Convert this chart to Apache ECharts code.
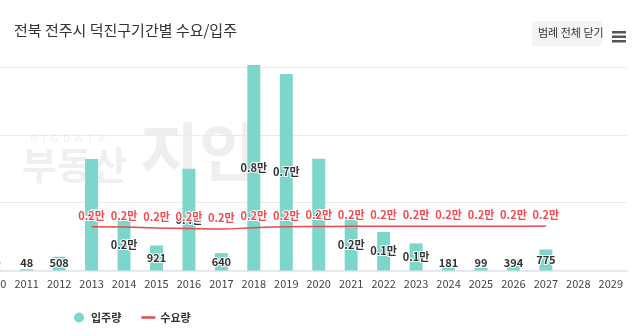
<!DOCTYPE html>
<html>
<head>
<meta charset="utf-8">
<script src="https://cdn.jsdelivr.net/npm/echarts@6/dist/echarts.min.js"></script>
<style>
html,body{margin:0;padding:0;background:#fff;overflow:hidden;width:640px;height:336px;}
#c{position:absolute;left:-22px;top:0;width:662px;height:336px;}
</style>
</head>
<body>
<div id="c"></div>
<script>
var years = ['2010','2011','2012','2013','2014','2015','2016','2017','2018','2019','2020','2021','2022','2023','2024','2025','2026','2027','2028','2029'];
var moveIn = [30, 48, 508, 4110, 1890, 921, 3750, 640, 7575, 7240, 4120, 1900, 1420, 1000, 181, 99, 394, 775, null, null];
var demand = [null, null, null, 1610, 1600, 1570, 1550, 1530, 1580, 1610, 1620, 1630, 1630, 1630, 1630, 1630, 1630, 1640, null, null];
var yTicks = [0, 2500, 5000, 7500];

function fmt(v){
  if (v == null) return '';
  return v >= 1000 ? (v/10000).toFixed(1) + '만' : String(v);
}
var FONT = '"Noto Sans CJK KR", "Noto Sans", sans-serif';
var OX = 22; // container offset (chart canvas starts 22px left of the window)
var chart = echarts.init(document.getElementById('c'));
chart.setOption({
  animation: false,
  textStyle: {fontFamily: FONT},
  title: {
    text: '전북 전주시 덕진구기간별 수요/입주',
    left: 9 + OX, top: 18,
    textStyle: {fontSize: 15, fontWeight: 'normal', color: '#333', fontFamily: FONT}
  },
  graphic: [
    {type:'text', left: 30 + OX, top: 132, z: 0, style:{text:'B  I  G  D  A  T  A', fontSize: 11, fill:'#f0f0f0', fontFamily: FONT}},
    {type:'text', left: 22 + OX, top: 146, z: 0, style:{text:'부동산', fontSize: 38, fontWeight:'bold', fill:'#efefef', fontFamily: FONT}},
    {type:'text', left: 140 + OX, top: 120, z: 0, style:{text:'지인', fontSize: 64, fontWeight:'bold', fill:'#efefef', fontFamily: FONT}},
    {type:'rect', left: 532 + OX, top: 21, z: 10, shape:{width: 70, height: 25, r: 2}, style:{fill:'#f4f4f4'}},
    {type:'text', left: 538 + OX, top: 27, z: 11, style:{text:'범례 전체 닫기', fontSize: 11, fill:'#333', fontFamily: FONT}},
    {type:'rect', left: 612 + OX, top: 31, z: 11, shape:{width: 14, height: 2.5}, style:{fill:'#555'}},
    {type:'rect', left: 612 + OX, top: 35.5, z: 11, shape:{width: 14, height: 2.5}, style:{fill:'#555'}},
    {type:'rect', left: 612 + OX, top: 40, z: 11, shape:{width: 14, height: 2.5}, style:{fill:'#555'}}
  ],
  legend: {
    left: 69 + OX, top: 307,
    itemWidth: 14, itemHeight: 10, itemGap: 20,
    textStyle: {fontSize: 11, color: '#333', fontWeight: 'bold', fontFamily: FONT},
    data: [{name:'입주량', icon:'circle'}, {name:'수요량', icon:'path://M0,0 H14 V2.5 H0 Z'}]
  },
  grid: {left: 0, right: 13, top: 67, bottom: 65.5, containLabel: false},
  xAxis: {
    type: 'category', data: years,
    axisLine: {lineStyle: {color: '#dfe3ee', width: 1.5}},
    axisTick: {show: false},
    axisLabel: {color: '#444', fontSize: 11, margin: 8, interval: 0, fontFamily: FONT}
  },
  yAxis: {
    type: 'value', min: yTicks[0], max: yTicks[yTicks.length-1], interval: yTicks[1]-yTicks[0],
    axisLabel: {show: false}, axisLine: {show: false}, axisTick: {show: false},
    splitLine: {lineStyle: {color: '#ebebeb'}}
  },
  series: [
    {
      name: '입주량', type: 'bar', data: moveIn, barWidth: '40%', clip: false, z: 2,
      itemStyle: {color: '#7dd6ca'},
      label: {
        show: true, position: 'inside', formatter: function(p){ return fmt(p.value); },
        color: '#333', fontSize: 11, fontWeight: 'bold', textBorderColor: '#fff', textBorderWidth: 2, fontFamily: FONT
      },
      labelLayout: function(p){
        var r = p.labelRect;
        var cx = r.x + r.width/2, cy = r.y + r.height/2;
        return {x: cx, y: Math.min(cy, 262.5), align: 'center', verticalAlign: 'middle'};
      }
    },
    {
      name: '수요량', type: 'line', data: demand, smooth: true, symbol: 'circle', symbolSize: 0, showSymbol: true, z: 5,
      lineStyle: {color: '#e8494f', width: 1.5},
      itemStyle: {color: '#e8494f'},
      label: {
        show: true, position: 'top', distance: 6, formatter: function(p){ return fmt(p.value); },
        color: '#f24b50', fontSize: 11, fontWeight: 'bold', textBorderColor: '#fff', textBorderWidth: 2, fontFamily: FONT
      }
    }
  ]
});
</script>
</body>
</html>
